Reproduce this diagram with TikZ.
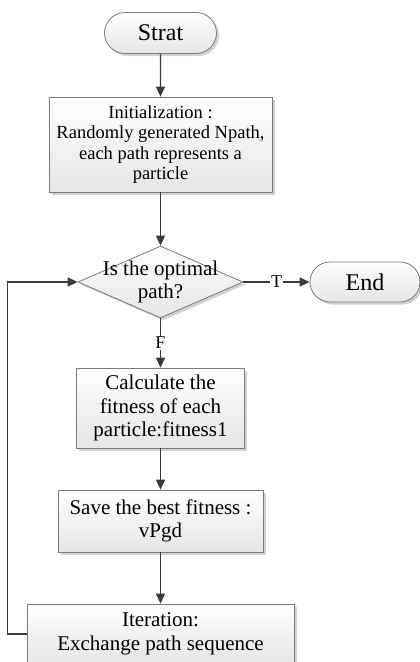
\documentclass[tikz,border=0pt]{standalone}
\usepackage{fontspec}
\setmainfont{Liberation Serif}
\usetikzlibrary{arrows.meta,shapes.geometric,shapes.misc,shadows}

\definecolor{linegray}{HTML}{3A3A3A}
\definecolor{edgegray}{HTML}{7A7A7A}

\tikzset{
  base/.style={draw=edgegray, line width=0.8pt, top color=white, bottom color=gray!20,
    drop shadow={shadow xshift=2.5pt, shadow yshift=-2.5pt, fill=gray!35, opacity=1},
    align=center, inner sep=0pt},
  term/.style={base, rounded rectangle, minimum height=41pt, font=\fontsize{24}{26}\selectfont},
  box/.style={base, rectangle, font=\fontsize{21}{23.5}\selectfont},
  decision/.style={base, diamond, minimum width=165pt, minimum height=72pt},
  flow/.style={draw=linegray, line width=1.4pt, -{Triangle[length=10pt,width=9pt]}},
  tag/.style={fill=white, inner sep=1pt, font=\fontsize{18}{20}\selectfont},
}

\begin{document}
\begin{tikzpicture}[x=1pt, y=-1pt]
  \useasboundingbox (0,0) rectangle (420,662);
  \clip (0,0) rectangle (420,662);

  % main column
  \node[term, minimum width=112pt] (start) at (160.5,33) {Strat};
  \node[box, minimum width=223pt, minimum height=95pt, font=\fontsize{18.5}{20.5}\selectfont]
    (init) at (160.5,144.5) {Initialization :\\Randomly generated Npath,\\each path represents a\\particle};
  \node[decision, label={[font=\fontsize{21}{23}\selectfont, align=center]center:{Is the optimal\\path?}}]
    (dec) at (160.5,282) {};
  \node[term, minimum width=110pt, minimum height=40pt] (stop) at (365,282) {End};
  \node[box, minimum width=168pt, minimum height=80pt] (calc) at (160.5,408)
    {Calculate the\\fitness of each\\particle:fitness1};
  \node[box, minimum width=205pt, minimum height=62pt] (save) at (160.5,521)
    {Save the best fitness :\\vPgd};
  \node[box, minimum width=267pt, minimum height=60pt] (iter) at (160.5,634)
    {Iteration:\\Exchange path sequence};

  % connectors
  \draw[flow] (start) -- (init);
  \draw[flow] (init) -- (dec);
  \draw[flow] (dec) -- node[tag] {T} (stop);
  \draw[flow] (dec) -- node[tag] {F} (calc);
  \draw[flow] (calc) -- (save);
  \draw[flow] (save) -- (iter);
  % loop back
  \draw[flow] (iter.west) -- ++(-19,0) |- (dec.west);
\end{tikzpicture}
\end{document}
